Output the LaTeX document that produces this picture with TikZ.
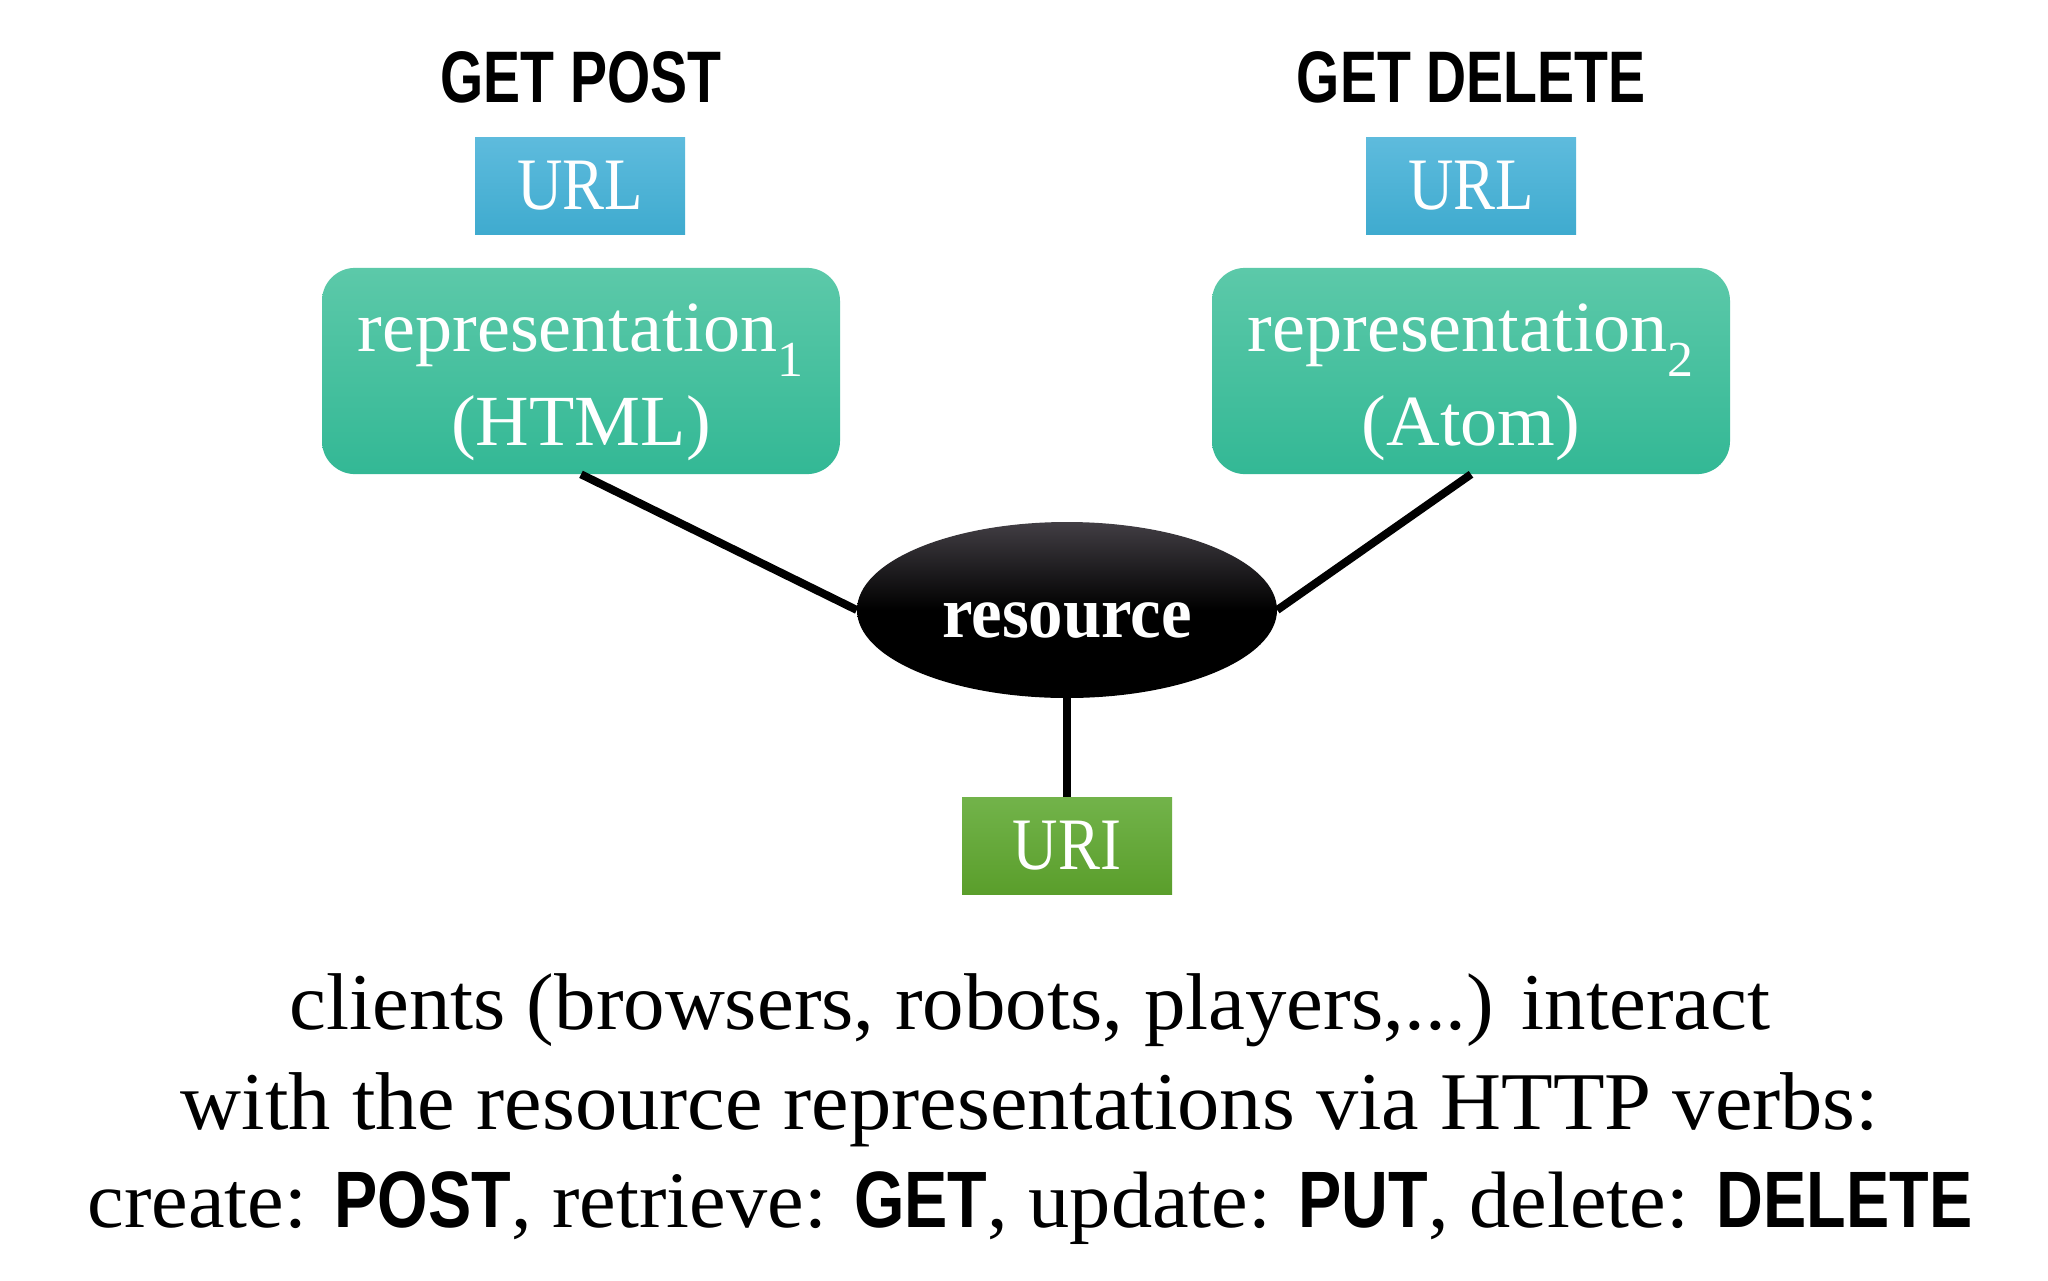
\documentclass[tikz,border=0pt]{standalone}
\usepackage{fontspec}
\setmainfont{Liberation Serif}[FakeStretch=1.03]
\newfontfamily\narrowserif{Liberation Serif}[FakeStretch=0.85]
\newfontfamily\resfont{Liberation Serif}[FakeStretch=0.93]
\newfontfamily\bcond{Liberation Sans}[FakeStretch=0.76]
\newfontfamily\bverbfont{Liberation Sans}[FakeStretch=0.81]
\usetikzlibrary{shapes.geometric}
\definecolor{urltop}{HTML}{5EBBDD}
\definecolor{urlbot}{HTML}{3FABCF}
\definecolor{reptop}{HTML}{5CC9A9}
\definecolor{repbot}{HTML}{33B895}
\definecolor{uritop}{HTML}{72B34A}
\definecolor{uribot}{HTML}{5A9E2B}
\definecolor{restop}{HTML}{423E44}
\newcommand\hverb[1]{{\bverbfont\bfseries\fontsize{80}{96}\selectfont #1}}
\newcommand\reptext[2]{\begin{tabular}{@{}c@{}}\rule{0pt}{84pt}#1\\#2\end{tabular}}
\tikzset{
  titletext/.style={anchor=base, inner sep=0, font=\bcond\bfseries\fontsize{73}{80}\selectfont},
  urlbox/.style={rectangle, inner sep=0, minimum width=210, minimum height=97, top color=urltop, bottom color=urlbot, draw=none, text=white, font=\narrowserif\fontsize{74}{80}\selectfont},
  uribox/.style={rectangle, inner sep=0, minimum width=210, minimum height=97, top color=uritop, bottom color=uribot, draw=none, text=white, font=\narrowserif\fontsize{74}{80}\selectfont},
  repbox/.style={rectangle, rounded corners=33, inner sep=0, minimum width=518, minimum height=204, top color=reptop, bottom color=repbot, draw=none, text=white, font=\fontsize{72}{94}\selectfont},
  resnode/.style={ellipse, inner sep=0, minimum width=420, minimum height=176, top color=restop, bottom color=black, middle color=black, text=white, font=\resfont\bfseries\fontsize{74}{80}\selectfont},
  conn/.style={line width=8, black},
  bodytext/.style={anchor=base, inner sep=0, font=\fontsize{82}{96}\selectfont}
}
\begin{document}
\begin{tikzpicture}[x=1pt,y=-1pt]
\useasboundingbox[fill=white] (0,0) rectangle (2048,1280);
\node[titletext] (t1) at (581,102) {GET POST};
\node[titletext] (t2) at (1471,102) {GET DELETE};
\node[urlbox] (u1) at (580,185.5) {URL};
\node[urlbox] (u2) at (1471,185.5) {URL};
\node[repbox] (r1) at (581,371) {\reptext{representation\textsubscript{1}}{(HTML)}};
\node[repbox] (r2) at (1471,371) {\reptext{representation\textsubscript{2}}{(Atom)}};
\node[resnode] (res) at (1067,610) {\raisebox{-27pt}[20pt][20pt]{resource}};
\node[uribox] (uri) at (1067,846) {URI};
\draw[conn] (r1.south) -- (res.west);
\draw[conn] (r2.south) -- (res.east);
\draw[conn] (res.south) -- (uri.north);
\node[bodytext, font=\fontsize{80.5}{96}\selectfont] (l1) at (1030,1029) {clients (browsers, robots, players,...) interact};
\node[bodytext] (l2) at (1030,1129) {with the resource representations via HTTP verbs:};
\node[bodytext, font=\fontsize{80}{96}\selectfont] (l3) at (1030,1227) {create: \hverb{POST}, retrieve: \hverb{GET}, update: \hverb{PUT}, delete: \hverb{DELETE}};
\end{tikzpicture}
\end{document}
